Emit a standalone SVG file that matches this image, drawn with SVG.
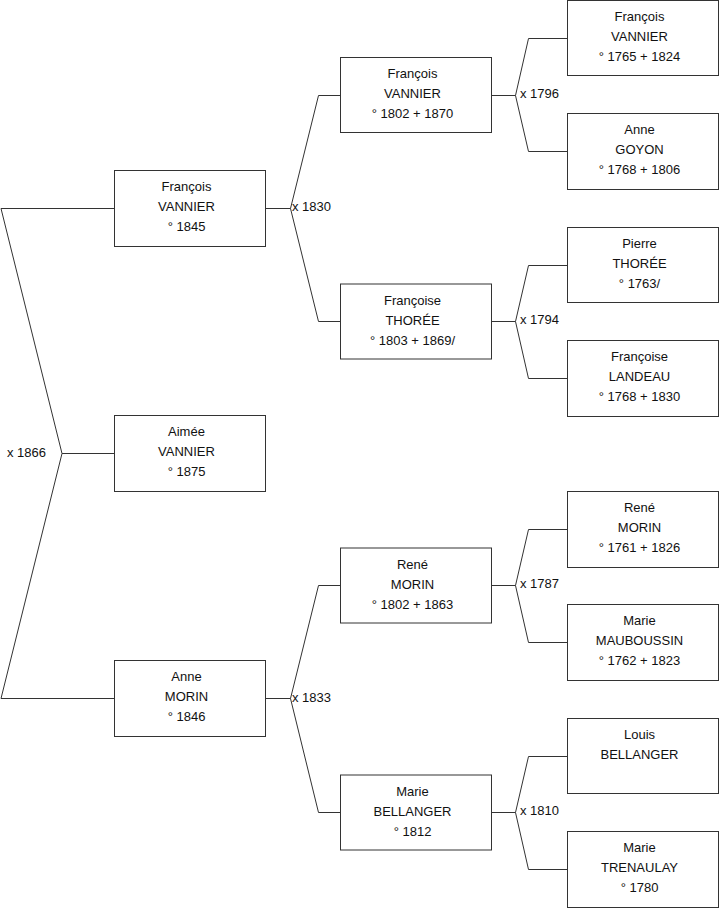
<svg xmlns="http://www.w3.org/2000/svg" width="719" height="908" viewBox="0 0 719 908">
<style>
.b{fill:#fff;stroke:#333;stroke-width:1}
.c{fill:none;stroke:#333;stroke-width:1}
text{font-family:"Liberation Sans",Arial,sans-serif;font-size:13px;fill:#111}
.n{text-anchor:middle}
</style>
<rect width="719" height="908" fill="#fff"/>
<g id="connectors">
<path class="c" d="M1,208.5H114.5 M1,698.5H114.5 M1,208.5L62,453.5L1,698.5 M62,453.5H114.5"/>
<path class="c" d="M265.5,208.5H290.5L318.5,95.5H340.5 M290.5,208.5L318.5,321.5H340.5"/>
<path class="c" d="M265.5,698.5H290.5L318.5,585.5H340.5 M290.5,698.5L318.5,812.5H340.5"/>
<path class="c" d="M491.5,95.5H515.5L528.5,38.5H567.5 M515.5,95.5L528.5,151.5H567.5"/>
<path class="c" d="M491.5,321.5H515.5L528.5,265.5H567.5 M515.5,321.5L528.5,378.5H567.5"/>
<path class="c" d="M491.5,585.5H515.5L528.5,529.5H567.5 M515.5,585.5L528.5,642.5H567.5"/>
<path class="c" d="M491.5,812.5H515.5L528.5,756.5H567.5 M515.5,812.5L528.5,869.5H567.5"/>
<text x="7" y="457">x 1866</text>
<text x="292" y="211">x 1830</text>
<text x="292" y="701.5">x 1833</text>
<text x="520" y="98">x 1796</text>
<text x="520" y="324">x 1794</text>
<text x="520" y="588">x 1787</text>
<text x="520" y="815">x 1810</text>
</g>
<g id="n1"><rect class="b" x="114.5" y="170.5" width="151" height="76"/><text class="n" x="186.5" y="191">François</text><text class="n" x="186.5" y="211">VANNIER</text><text class="n" x="186.5" y="231">° 1845</text></g>
<g id="n2"><rect class="b" x="114.5" y="415.5" width="151" height="76"/><text class="n" x="186.5" y="436">Aimée</text><text class="n" x="186.5" y="456">VANNIER</text><text class="n" x="186.5" y="476">° 1875</text></g>
<g id="n3"><rect class="b" x="114.5" y="660.5" width="151" height="76"/><text class="n" x="186.5" y="681">Anne</text><text class="n" x="186.5" y="701">MORIN</text><text class="n" x="186.5" y="721">° 1846</text></g>
<g id="n4"><rect class="b" x="340.5" y="57.5" width="151" height="75"/><text class="n" x="412.5" y="78">François</text><text class="n" x="412.5" y="98">VANNIER</text><text class="n" x="412.5" y="118">° 1802 + 1870</text></g>
<g id="n5"><rect class="b" x="340.5" y="284" width="151" height="75"/><text class="n" x="412.5" y="304.5">Françoise</text><text class="n" x="412.5" y="324.5">THORÉE</text><text class="n" x="412.5" y="344.5">° 1803 + 1869/</text></g>
<g id="n6"><rect class="b" x="340.5" y="548" width="151" height="75"/><text class="n" x="412.5" y="568.5">René</text><text class="n" x="412.5" y="588.5">MORIN</text><text class="n" x="412.5" y="608.5">° 1802 + 1863</text></g>
<g id="n7"><rect class="b" x="340.5" y="775" width="151" height="75"/><text class="n" x="412.5" y="795.5">Marie</text><text class="n" x="412.5" y="815.5">BELLANGER</text><text class="n" x="412.5" y="835.5">° 1812</text></g>
<g id="n8"><rect class="b" x="567.5" y="0.5" width="151" height="75"/><text class="n" x="639.5" y="21">François</text><text class="n" x="639.5" y="41">VANNIER</text><text class="n" x="639.5" y="61">° 1765 + 1824</text></g>
<g id="n9"><rect class="b" x="567.5" y="113.5" width="151" height="76"/><text class="n" x="639.5" y="134">Anne</text><text class="n" x="639.5" y="154">GOYON</text><text class="n" x="639.5" y="174">° 1768 + 1806</text></g>
<g id="n10"><rect class="b" x="567.5" y="227.5" width="151" height="75"/><text class="n" x="639.5" y="248">Pierre</text><text class="n" x="639.5" y="268">THORÉE</text><text class="n" x="639.5" y="288">° 1763/</text></g>
<g id="n11"><rect class="b" x="567.5" y="340.5" width="151" height="76"/><text class="n" x="639.5" y="361">Françoise</text><text class="n" x="639.5" y="381">LANDEAU</text><text class="n" x="639.5" y="401">° 1768 + 1830</text></g>
<g id="n12"><rect class="b" x="567.5" y="491.5" width="151" height="76"/><text class="n" x="639.5" y="512">René</text><text class="n" x="639.5" y="532">MORIN</text><text class="n" x="639.5" y="552">° 1761 + 1826</text></g>
<g id="n13"><rect class="b" x="567.5" y="604.5" width="151" height="76"/><text class="n" x="639.5" y="625">Marie</text><text class="n" x="639.5" y="645">MAUBOUSSIN</text><text class="n" x="639.5" y="665">° 1762 + 1823</text></g>
<g id="n14"><rect class="b" x="567.5" y="718.5" width="151" height="75"/><text class="n" x="639.5" y="739">Louis</text><text class="n" x="639.5" y="759">BELLANGER</text></g>
<g id="n15"><rect class="b" x="567.5" y="831.5" width="151" height="76"/><text class="n" x="639.5" y="852">Marie</text><text class="n" x="639.5" y="872">TRENAULAY</text><text class="n" x="639.5" y="892">° 1780</text></g>
</svg>
